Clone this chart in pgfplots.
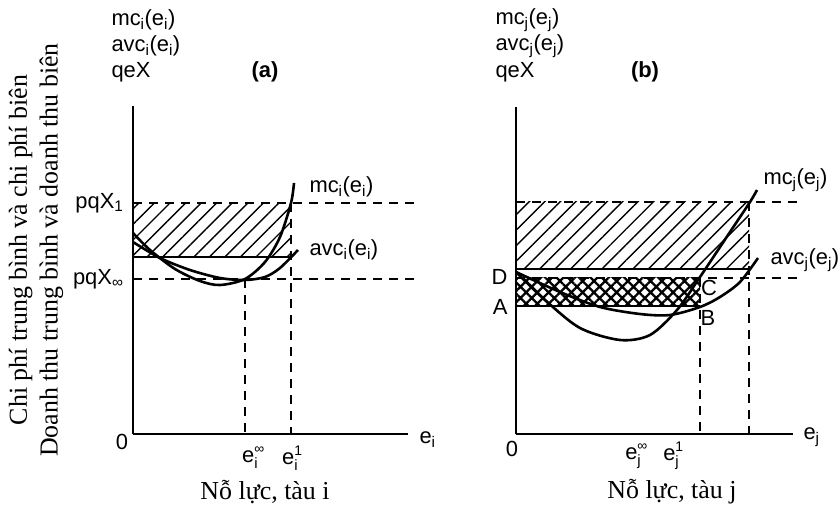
\documentclass[border=0pt]{standalone}
\usepackage{pgfplots}
\pgfplotsset{compat=1.18}
\usetikzlibrary{patterns.meta}
\usepackage{fontspec}
\setmainfont{Liberation Serif}
\setsansfont{Liberation Sans}

\newcommand{\lab}{\sffamily\fontsize{22}{24}\selectfont}
\newcommand{\ttl}{\rmfamily\fontsize{26}{31}\selectfont}
% stacked sub- and superscript in the sans label font
\newcommand{\subsup}[2]{\rlap{\raisebox{9bp}{\fontsize{14}{14}\selectfont #2}}\raisebox{-6bp}{\fontsize{15}{15}\selectfont #1}}

\pgfplotsset{
  panel/.style={
    x=1bp, y=1bp, anchor=south west,
    xmin=0, ymin=0, clip=false,
    axis lines=left,
    axis line style={-, line width=2bp},
    xtick=\empty, ytick=\empty,
  },
  curve/.style={smooth, line width=2.6bp, black},
  guide/.style={line width=1.5bp, dash pattern=on 9bp off 7bp, black},
  solidedge/.style={line width=1.7bp, black},
}

\begin{document}
\begin{tikzpicture}
\path[use as bounding box] (0,0) rectangle (839bp,513bp);

% ---------------- panel (a) ----------------
\begin{axis}[panel, at={(133bp,79bp)}, xmax=275, ymax=328]
  % hatched area between pqX_1 and the average-cost level
  \addplot[draw=none, pattern={Lines[angle=45,distance=11bp,line width=1.4bp]}]
    coordinates {(0,177) (158,177) (158,231) (0,231) (0,177)};
  \addplot[solidedge] coordinates {(0,177) (158,177)};
  % price levels
  \addplot[guide] coordinates {(0,231) (287,231)};
  \addplot[guide] coordinates {(0,155) (287,155)};
  % effort levels
  \addplot[guide] coordinates {(112,155) (112,0)};
  \addplot[guide] coordinates {(158,231) (158,0)};
  % marginal cost
  \addplot[curve] coordinates {(0,201) (17,184) (42,165) (67,153) (87,149) (112,155) (132,172) (147,197) (158,231) (161,251)};
  % average variable cost
  \addplot[curve] coordinates {(0,192) (27,176) (57,164) (87,156) (112,154) (132,157) (147,166) (165,184)};

  \node[anchor=west, font=\lab] at (axis cs:-25,414) {mc\textsubscript{i}(e\textsubscript{i})};
  \node[anchor=west, font=\lab] at (axis cs:-25,388) {avc\textsubscript{i}(e\textsubscript{i})};
  \node[anchor=west, font=\lab] at (axis cs:-25,362) {qeX};
  \node[font=\lab\bfseries] at (axis cs:132,362) {(a)};
  \node[anchor=east, font=\lab] at (axis cs:-6,231) {pqX\textsubscript{1}};
  \node[anchor=east, font=\lab] at (axis cs:-6,155) {pqX\textsubscript{∞}};
  \node[font=\lab] at (axis cs:-11,-8) {0};
  \node[font=\lab] at (axis cs:117,-24) {e\subsup{i}{∞}};
  \node[font=\lab] at (axis cs:157,-24) {e\subsup{i}{1}};
  \node[anchor=west, font=\lab] at (axis cs:283,-6) {e\textsubscript{i}};
  \node[anchor=west, font=\lab] at (axis cs:173,247) {mc\textsubscript{i}(e\textsubscript{i})};
  \node[anchor=west, font=\lab] at (axis cs:173,184) {avc\textsubscript{i}(e\textsubscript{i})};
  \node[font=\ttl] at (axis cs:132,-58) {Nỗ lực, tàu i};
  \node[font=\ttl, rotate=90, align=center] at (axis cs:-97,184)
    {Chi phí trung bình và chi phí biên\\Doanh thu trung bình và doanh thu biên};
\end{axis}

% ---------------- panel (b) ----------------
\begin{axis}[panel, at={(516bp,79bp)}, xmax=277, ymax=327]
  % hatched area above the average-cost level
  \addplot[draw=none, pattern={Lines[angle=45,distance=11bp,line width=1.4bp]}]
    coordinates {(0,165) (233,165) (233,232) (0,232) (0,165)};
  \addplot[solidedge] coordinates {(0,165) (233,165)};
  % cross-hatched rectangle ABCD
  \addplot[draw=none, pattern={Hatch[angle=45,distance=8bp,line width=2.3bp]}]
    coordinates {(0,128) (184,128) (184,156) (0,156) (0,128)};
  \addplot[solidedge] coordinates {(0,128) (184,128)};
  % price levels
  \addplot[guide] coordinates {(0,232) (287,232)};
  \addplot[guide] coordinates {(0,156) (287,156)};
  % effort levels
  \addplot[guide] coordinates {(184,156) (184,0)};
  \addplot[guide] coordinates {(233,232) (233,0)};
  % marginal cost
  \addplot[curve] coordinates {(0,162) (29,134) (64,106) (104,94) (134,99) (161,124) (184,157) (214,202) (234,232) (241,244)};
  % average variable cost
  \addplot[curve] coordinates {(0,162) (44,142) (84,127) (124,120) (154,119) (184,127) (204,137) (224,152) (242,176)};

  \node[anchor=west, font=\lab] at (axis cs:-24,414) {mc\textsubscript{j}(e\textsubscript{j})};
  \node[anchor=west, font=\lab] at (axis cs:-24,388) {avc\textsubscript{j}(e\textsubscript{j})};
  \node[anchor=west, font=\lab] at (axis cs:-24,362) {qeX};
  \node[font=\lab\bfseries] at (axis cs:129,362) {(b)};
  \node[anchor=east, font=\lab] at (axis cs:-5,157) {D};
  \node[anchor=east, font=\lab] at (axis cs:-5,127) {A};
  \node[font=\lab] at (axis cs:193,146) {C};
  \node[font=\lab] at (axis cs:192,116) {B};
  \node[font=\lab] at (axis cs:-4,-15) {0};
  \node[font=\lab] at (axis cs:117,-22) {e\subsup{j}{∞}};
  \node[font=\lab] at (axis cs:155,-22) {e\subsup{j}{1}};
  \node[anchor=west, font=\lab] at (axis cs:284,-3) {e\textsubscript{j}};
  \node[anchor=west, font=\lab] at (axis cs:244,254) {mc\textsubscript{j}(e\textsubscript{j})};
  \node[anchor=west, font=\lab] at (axis cs:251,174) {avc\textsubscript{j}(e\textsubscript{j})};
  \node[font=\ttl] at (axis cs:156,-58) {Nỗ lực, tàu j};
\end{axis}
\end{tikzpicture}
\end{document}
